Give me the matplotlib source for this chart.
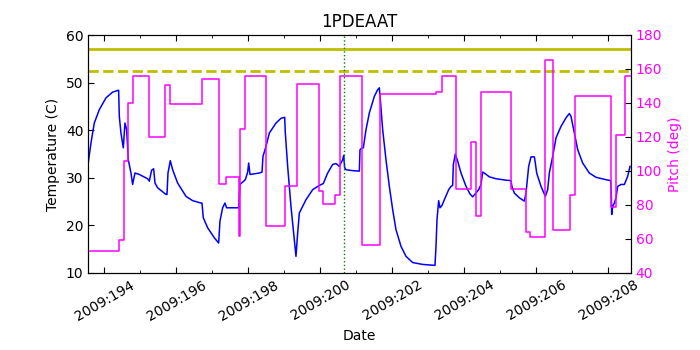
import matplotlib
matplotlib.use('Agg')
import matplotlib.pyplot as plt
from matplotlib.ticker import FuncFormatter, MultipleLocator

# Temperature samples: day of year 2009 and 1PDEAAT (C)
temp_days = [193.548, 193.631, 193.723, 193.862, 194.048, 194.233, 194.399,
             194.418, 194.464, 194.529, 194.575, 194.622, 194.668, 194.742,
             194.788, 194.853, 194.973, 195.205, 195.251, 195.316, 195.372,
             195.409, 195.483, 195.714, 195.742, 195.770, 195.835, 195.899,
             196.038, 196.270, 196.455, 196.686, 196.714, 196.751, 196.872,
             197.057, 197.177, 197.214, 197.288, 197.353, 197.399, 197.705,
             197.733, 197.770, 197.844, 197.918, 197.983, 198.011, 198.048,
             198.307, 198.381, 198.409, 198.492, 198.585, 198.770, 198.909,
             199.011, 199.029, 199.094, 199.186, 199.279, 199.325, 199.372,
             199.418, 199.603, 199.788, 199.973, 200.085, 200.112, 200.205,
             200.344, 200.437, 200.529, 200.622, 200.650, 200.677, 200.714,
             200.899, 201.085, 201.103, 201.159, 201.196, 201.270, 201.362,
             201.501, 201.594, 201.640, 201.668, 201.733, 201.825, 201.918,
             202.011, 202.103, 202.242, 202.381, 202.566, 202.844, 203.186,
             203.214, 203.242, 203.288, 203.325, 203.381, 203.446, 203.510,
             203.566, 203.631, 203.677, 203.696, 203.751, 203.816, 203.909,
             204.048, 204.159, 204.233, 204.325, 204.399, 204.464, 204.510,
             204.557, 204.696, 204.881, 205.159, 205.298, 205.325, 205.390,
             205.529, 205.668, 205.714, 205.788, 205.853, 205.946, 205.973,
             206.011, 206.131, 206.251, 206.316, 206.362, 206.455, 206.548,
             206.686, 206.825, 206.918, 206.964, 207.057, 207.150, 207.288,
             207.473, 207.659, 207.936, 208.066, 208.085, 208.094, 208.121,
             208.168, 208.214, 208.260, 208.353, 208.446, 208.538, 208.603]
temp_vals = [32.8, 37.3, 41.5, 44.3, 46.8, 48.0, 48.4,
             42.9, 39.4, 36.3, 41.5, 40.1, 33.8, 31.0,
             28.6, 31.0, 30.7, 29.8, 29.3, 31.6, 31.9,
             28.9, 27.9, 26.5, 26.5, 31.0, 33.6, 31.7,
             28.9, 26.1, 25.2, 24.7, 24.7, 21.6, 19.5,
             17.4, 16.3, 20.9, 23.7, 24.7, 23.7, 23.7,
             23.7, 28.6, 29.1, 29.6, 31.2, 33.1, 30.7,
             31.0, 31.2, 34.5, 36.6, 39.4, 41.5, 42.5,
             42.7, 39.4, 32.4, 24.0, 17.0, 13.5, 18.4,
             22.6, 25.4, 27.5, 28.4, 28.8, 29.3, 31.0,
             32.8, 33.0, 32.4, 33.8, 34.7, 32.1, 31.7,
             31.5, 31.4, 35.9, 36.3, 36.3, 40.1, 43.6,
             47.1, 48.5, 48.9, 46.4, 40.1, 33.8, 28.2,
             23.3, 19.1, 15.6, 13.5, 12.2, 11.8, 11.6,
             15.6, 21.2, 25.2, 23.7, 24.2, 25.4, 26.5,
             27.5, 28.2, 28.4, 32.8, 35.0, 33.5, 31.0,
             28.2, 26.6, 26.0, 26.8, 27.5, 28.6, 31.2,
             31.0, 30.2, 29.8, 29.5, 29.4, 28.1, 26.8,
             25.8, 25.1, 26.8, 32.4, 34.4, 34.4, 33.1,
             31.0, 28.2, 26.1, 27.5, 31.0, 34.5, 38.4,
             40.8, 42.6, 43.5, 42.9, 39.4, 35.9, 33.1,
             31.0, 30.1, 29.6, 29.4, 26.1, 22.3, 24.0,
             24.7, 25.8, 28.2, 28.6, 28.6, 30.3, 32.4]

# Pitch attitude: start time of each segment and its pitch (deg)
pitch_days = [193.548, 194.413, 194.548, 194.649, 194.807, 195.251, 195.696,
              195.835, 196.705, 197.186, 197.372, 197.737, 197.779, 197.899,
              198.506, 199.015, 199.349, 199.960, 200.089, 200.409, 200.561,
              201.145, 201.649, 203.214, 203.386, 203.756, 204.200, 204.325,
              204.469, 205.311, 205.705, 205.835, 206.247, 206.455, 206.936,
              207.066, 208.085, 208.214, 208.473, 208.622]
pitch_vals = [52.8, 59.2, 105.7, 140.0, 155.7, 119.8, 150.8,
              139.6, 154.1, 92.5, 96.5, 61.5, 124.9, 155.7,
              67.4, 91.4, 151.4, 88.0, 80.6, 86.1, 156.1,
              56.6, 145.5, 146.7, 156.1, 89.4, 117.3, 73.7,
              146.7, 89.4, 63.9, 61.0, 165.5, 65.1, 86.1,
              144.3, 79.0, 121.4, 156.1, 156.1]

planning_limit = 57.0
caution_limit = 52.5
now_day = 200.66

plt.rcParams['xtick.direction'] = 'in'
plt.rcParams['ytick.direction'] = 'in'
plt.rcParams['xtick.top'] = True
plt.rcParams['ytick.right'] = True
plt.rcParams['font.size'] = 10

magenta = '#ff00ff'

fig = plt.figure(figsize=(7, 3.5), dpi=100)
ax1 = fig.add_subplot(111)
fig.subplots_adjust(left=0.1261, right=0.901, bottom=0.22, top=0.9)

ax1.plot(temp_days, temp_vals, color='b', lw=1.1)
ax1.axhline(planning_limit, color='y', lw=2)
ax1.axhline(caution_limit, color='y', lw=2, ls='--')
ax1.axvline(now_day, color='g', lw=1, ls=':')
ax1.set_ylim(10, 60)
ax1.set_xlim(193.556, 208.622)
ax1.set_ylabel('Temperature (C)')
ax1.set_xlabel('Date')
ax1.set_title('1PDEAAT', fontsize=12)

ax1.xaxis.set_major_locator(MultipleLocator(2))
ax1.xaxis.set_minor_locator(MultipleLocator(1))
ax1.xaxis.set_major_formatter(FuncFormatter(lambda x, pos: '2009:%03d' % round(x)))
ax1.tick_params(which='major', length=4)
ax1.tick_params(which='minor', length=2)
for lab in ax1.get_xticklabels():
    lab.set_rotation(30)

ax2 = ax1.twinx()
ax2.plot(pitch_days, pitch_vals, color=magenta, lw=1.1, drawstyle='steps-post')
ax2.set_ylim(40, 180)
ax2.set_xlim(193.556, 208.622)
ax2.set_ylabel('Pitch (deg)', color=magenta)
ax2.tick_params(axis='y', labelcolor=magenta, length=4)

fig.savefig('out.png', dpi=100)
